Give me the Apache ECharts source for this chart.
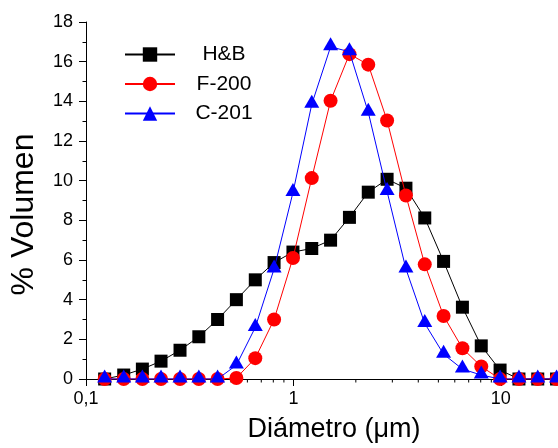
<!DOCTYPE html>
<html>
<head>
<meta charset="utf-8">
<script src="https://cdn.jsdelivr.net/npm/echarts@6/dist/echarts.min.js"></script>
<style>html,body{margin:0;padding:0;background:#fff}#c{width:558px;height:448px}</style>
</head>
<body>
<div id="c"></div>
<script>
// Diameter (µm) of each size class
const diameter = [0.123,0.152,0.187,0.230,0.284,0.350,0.431,0.531,0.655,0.807,0.995,1.226,1.511,1.863,2.296,2.830,3.488,4.299,5.298,6.530,8.049,9.920,12.23,15.07,18.57];
// % Volumen per series
const hb   = [0,0.2,0.5,0.9,1.45,2.13,3.0,4.0,5.0,5.87,6.4,6.58,7.0,8.15,9.42,10.07,9.62,8.12,5.93,3.62,1.67,0.45,0,0,0];
const f200 = [0,0,0,0,0,0,0,0.05,1.05,3.0,6.1,10.13,14.03,16.38,15.85,13.03,9.25,5.78,3.18,1.55,0.63,0,0,0,0];
const c201 = [0,0,0,0,0,0,0,0.7,2.6,5.55,9.4,13.85,16.75,16.5,13.45,9.45,5.55,2.8,1.25,0.5,0.2,0,0,0,0];
const seriesNames = ['H&B','F-200','C-201'];
const xMinorTicks = [0.2,0.3,0.4,0.5,0.6,0.7,0.8,0.9,2,3,4,5,6,7,8,9];
const yTicks = [0,2,4,6,8,10,12,14,16,18];

const FONT = '"Liberation Sans", Arial, sans-serif';
const chart = echarts.init(document.getElementById('c'), null, {renderer:'canvas'});
const zip = arr => diameter.map((d,i)=>[d, arr[i]]);

chart.setOption({
  animation:false,
  backgroundColor:'#fff',
  grid:{left:83, top:22, right:0, bottom:66, containLabel:false},
  legend:{
    orient:'vertical', left:119, top:39, itemWidth:50, itemHeight:18, itemGap:8.5,
    data:seriesNames,
    formatter: n => '{s| }{a|' + n + '}',
    textStyle:{fontFamily:FONT, fontSize:21, color:'#000',
      rich:{ s:{width:12}, a:{width:64, align:'center', fontFamily:FONT, fontSize:21, color:'#000'} } }
  },
  xAxis:{
    type:'log', logBase:10, min:0.1, max:18.87,
    name:'Diámetro (μm)', nameLocation:'middle', nameGap:37,
    nameTextStyle:{fontFamily:FONT, fontSize:27, color:'#000', padding:[0,0,0,24]},
    axisLine:{show:true, lineStyle:{color:'#000', width:1}},
    axisTick:{show:true, inside:false, length:7, lineStyle:{color:'#000'}},
    axisLabel:{fontFamily:FONT, fontSize:18, color:'#000', margin:11, showMaxLabel:false,
      formatter: v => { const r = Math.round(v*1000)/1000; return String(r).replace('.', ','); }},
    splitLine:{show:false}, minorTick:{show:false}
  },
  yAxis:{
    type:'value', min:yTicks[0], max:yTicks[yTicks.length-1], interval:2,
    name:'% Volumen', nameLocation:'middle', nameGap:46, nameRotate:90,
    nameTextStyle:{fontFamily:FONT, fontSize:32, color:'#000', padding:[0,0,0,-28]},
    axisLine:{show:true, lineStyle:{color:'#000', width:1}},
    axisTick:{show:true, inside:false, length:7, lineStyle:{color:'#000'}},
    minorTick:{show:true, splitNumber:2, length:3.5, lineStyle:{color:'#000'}},
    axisLabel:{fontFamily:FONT, fontSize:18, color:'#000', margin:13},
    splitLine:{show:false}
  },
  series:[
    {type:'custom', name:'minor', silent:true, clip:false, z:1,
     data: xMinorTicks.map(v=>[v,0]),
     renderItem:(params, api)=>{
       const p = api.coord([api.value(0), 0]);
       return {type:'line', shape:{x1:p[0], y1:p[1], x2:p[0], y2:p[1]+3.5}, style:{stroke:'#000', lineWidth:1}};
     }},
    {type:'line', name:seriesNames[0], data:zip(hb), symbol:'rect', symbolSize:13,
     itemStyle:{color:'#000'}, lineStyle:{color:'#000', width:1}, z:3},
    {type:'line', name:seriesNames[1], data:zip(f200), symbol:'circle', symbolSize:14,
     itemStyle:{color:'#ff0000'}, lineStyle:{color:'#ff0000', width:1}, z:4},
    {type:'line', name:seriesNames[2], data:zip(c201), symbol:'triangle', symbolSize:[15,13], symbolOffset:[0,-3],
     itemStyle:{color:'#0000ff'}, lineStyle:{color:'#0000ff', width:1}, z:5}
  ]
});
</script>
</body>
</html>
